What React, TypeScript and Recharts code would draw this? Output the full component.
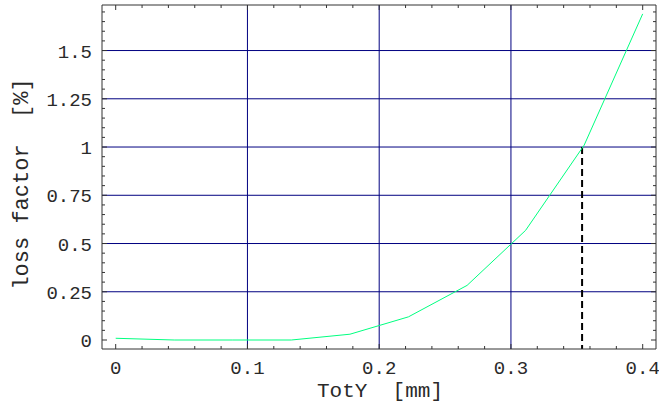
import React from 'react';
import { LineChart, Line, XAxis, YAxis, ReferenceLine } from 'recharts';

// TotY [mm] vs loss factor [%]
const totY = [0, 0.0444, 0.0889, 0.1333, 0.1778, 0.2222, 0.2667, 0.3111, 0.3556, 0.4];
const lossFactor = [0.009, 0, 0, 0, 0.03, 0.12, 0.283, 0.568, 1.01, 1.69];

const xTicks = [0, 0.02, 0.04, 0.06, 0.08, 0.1, 0.12, 0.14, 0.16, 0.18, 0.2, 0.22, 0.24, 0.26, 0.28, 0.3, 0.32, 0.34, 0.36, 0.38, 0.4];
const xMajor = [0, 0.1, 0.2, 0.3, 0.4];
const yTicks = [0, 0.05, 0.1, 0.15, 0.2, 0.25, 0.3, 0.35, 0.4, 0.45, 0.5, 0.55, 0.6, 0.65, 0.7, 0.75, 0.8, 0.85, 0.9, 0.95, 1, 1.05, 1.1, 1.15, 1.2, 1.25, 1.3, 1.35, 1.4, 1.45, 1.5, 1.55, 1.6, 1.65, 1.7];
const yMajor = [0, 0.25, 0.5, 0.75, 1, 1.25, 1.5];
const xGrid = [0.1, 0.2, 0.3];
const yGrid = [0.25, 0.5, 0.75, 1, 1.25, 1.5];

// marker: where the curve reaches 1 %
const cutX = 0.354;
const cutY = 1;

const xDomain = [-0.0104, 0.4101];
const yDomain = [-0.0466, 1.736];

const data = totY.map((x, i) => ({ x, loss: lossFactor[i] }));

const W = 659;
const H = 404;
const MARGIN = { top: 5, right: 3, bottom: 0, left: 0 };
const X_AXIS_H = 55;
const Y_AXIS_W = 102;
// plot box size, used to mirror the ticks onto the top and right edges
const PLOT_W = W - MARGIN.left - MARGIN.right - Y_AXIS_W;
const PLOT_H = H - MARGIN.top - MARGIN.bottom - X_AXIS_H;

const FONT = '"Liberation Mono", "DejaVu Sans Mono", monospace';
const FRAME = '#333';
const GRID = '#000080';

const tickText = { fontFamily: FONT, fontSize: 19, fill: '#2a2a2a' };

const BottomTick = (props: any) => {
  const { x, y, payload } = props;
  const major = xMajor.includes(payload.value);
  const len = major ? 5 : 3;
  const top = y - PLOT_H;
  return (
    <g>
      <line x1={x} x2={x} y1={y} y2={y - len} stroke={FRAME} strokeWidth={1} />
      <line x1={x} x2={x} y1={top} y2={top + len} stroke={FRAME} strokeWidth={1} />
      {major && (
        <text x={x} y={y + 25} textAnchor="middle" {...tickText}>
          {String(payload.value)}
        </text>
      )}
    </g>
  );
};

const LeftTick = (props: any) => {
  const { x, y, payload } = props;
  const major = yMajor.includes(payload.value);
  const len = major ? 5 : 3;
  const right = x + PLOT_W;
  return (
    <g>
      <line x1={x} x2={x + len} y1={y} y2={y} stroke={FRAME} strokeWidth={1} />
      <line x1={right} x2={right - len} y1={y} y2={y} stroke={FRAME} strokeWidth={1} />
      {major && (
        <text x={x - 10} y={y + 7} textAnchor="end" {...tickText}>
          {String(payload.value)}
        </text>
      )}
    </g>
  );
};

export default function App() {
  return (
    <div style={{ position: 'absolute', left: 0, top: 0, background: '#fff' }}>
      <LineChart width={W} height={H} data={data} margin={MARGIN}>
        <XAxis
          dataKey="x"
          type="number"
          domain={xDomain}
          allowDataOverflow
          ticks={xTicks}
          interval={0}
          tick={<BottomTick />}
          tickLine={false}
          tickSize={0}
          tickMargin={0}
          axisLine={{ stroke: FRAME }}
          height={X_AXIS_H}
          label={{
            content: () => (
              <text x={380} y={397} textAnchor="middle" fontFamily={FONT} fontSize={21} fill="#2a2a2a" style={{ whiteSpace: 'pre' }}>
                TotY  [mm]
              </text>
            ),
          }}
        />
        <YAxis
          type="number"
          domain={yDomain}
          allowDataOverflow
          ticks={yTicks}
          interval={0}
          tick={<LeftTick />}
          tickLine={false}
          tickSize={0}
          tickMargin={0}
          axisLine={{ stroke: FRAME }}
          width={Y_AXIS_W}
          label={{
            content: () => (
              <text
                x={22}
                y={184}
                transform="rotate(-90 22 184)"
                textAnchor="middle"
                dominantBaseline="central"
                fontFamily={FONT}
                fontSize={22}
                fill="#2a2a2a"
                style={{ whiteSpace: 'pre' }}
              >
                loss factor  [%]
              </text>
            ),
          }}
        />
        {xGrid.map((v) => (
          <ReferenceLine key={'gx' + v} x={v} stroke={GRID} strokeWidth={1} />
        ))}
        {yGrid.map((v) => (
          <ReferenceLine key={'gy' + v} y={v} stroke={GRID} strokeWidth={1} />
        ))}
        {/* top and right edges of the frame */}
        <ReferenceLine x={xDomain[1]} stroke={FRAME} ifOverflow="visible" />
        <ReferenceLine y={yDomain[1]} stroke={FRAME} ifOverflow="visible" />
        <ReferenceLine
          segment={[
            { x: cutX, y: cutY },
            { x: cutX, y: yDomain[0] },
          ]}
          stroke="#000"
          strokeWidth={2}
          strokeDasharray="7 4"
        />
        <Line
          dataKey="loss"
          type="linear"
          stroke="#00ff80"
          strokeWidth={1}
          dot={false}
          isAnimationActive={false}
        />
      </LineChart>
    </div>
  );
}
